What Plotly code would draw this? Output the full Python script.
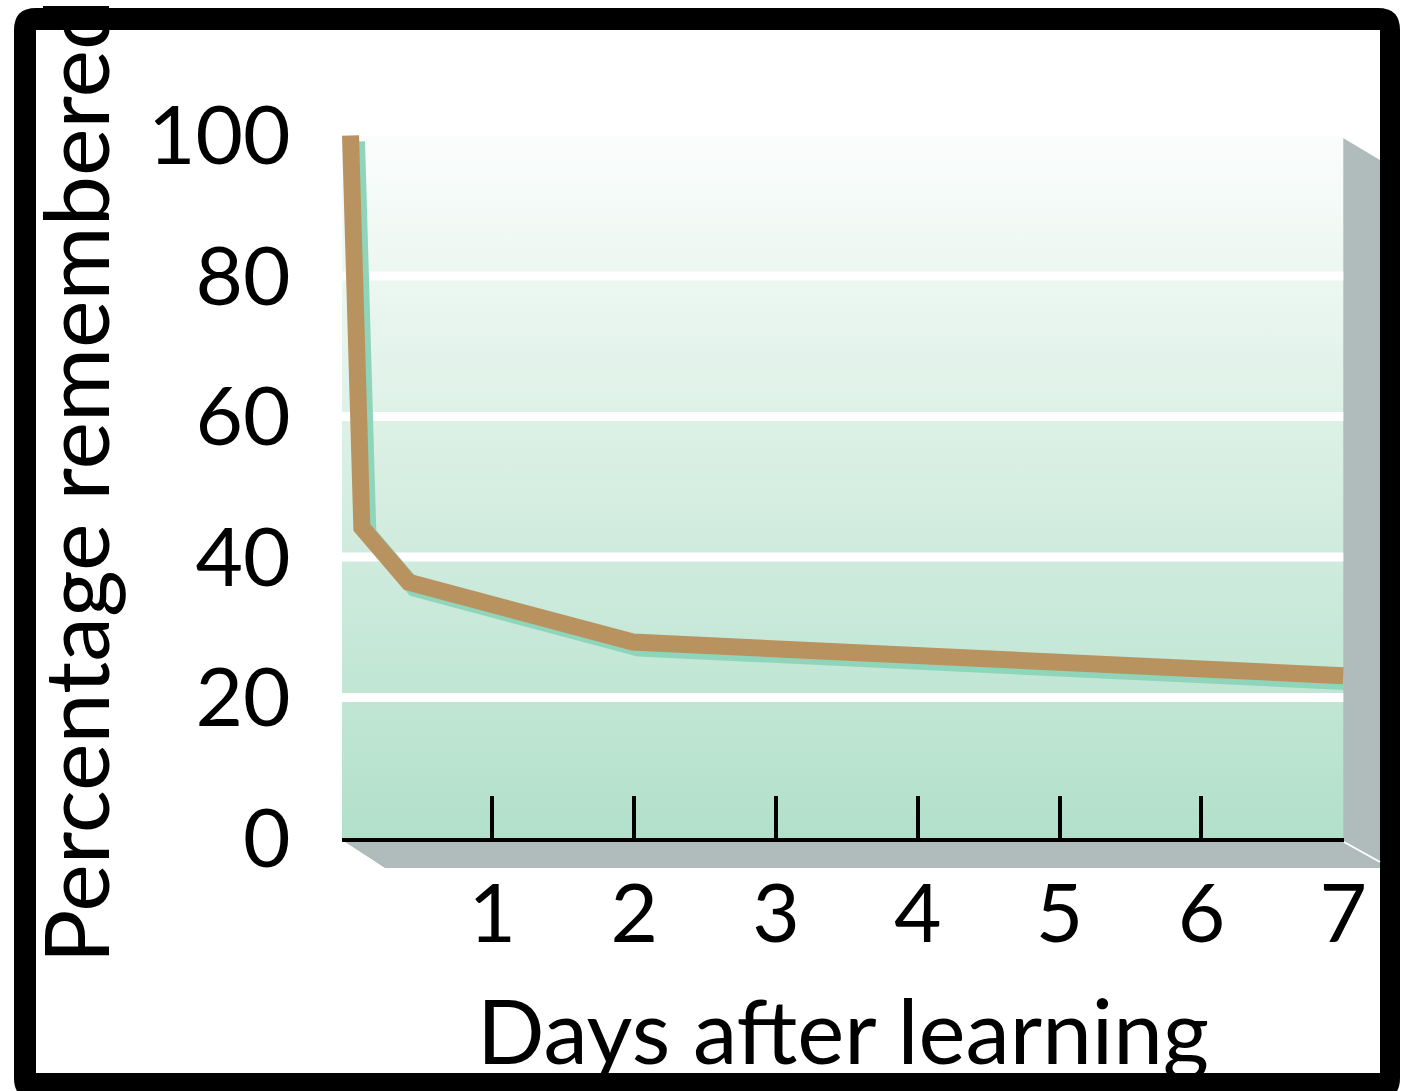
import plotly.graph_objects as go
import numpy as np

# ---- data ----
days = [0, 0.08, 0.41, 1.99, 7]
percent = [100, 44.2, 36.4, 27.9, 23.1]
x_ticks = [1, 2, 3, 4, 5, 6, 7]
x_tick_labels = ["1", "2", "3", "4", "5", "6", "7"]
y_ticks = [0, 20, 40, 60, 80, 100]
y_tick_labels = ["0", "20", "40", "60", "80", "100"]
grid_levels = [20, 40, 60, 80]

# ---- layout geometry (pixels) ----
W, H = 1414, 1091
L, R, T, B = 342, 1344, 125, 838
X_RANGE = [-0.06, 7.005]
Y_RANGE = [0, 101.5]

def px(xp):
    return (xp - L) / (R - L)

def py(yp):
    return (B - yp) / (B - T)

TAN = "#b8935f"
SHADOW = "#8fd5bb"
GRAY = "#afbcbb"
FONT = "Lato"

fig = go.Figure()

# gradient background panel
x0, x1 = X_RANGE[0], max(x_ticks)
fig.add_trace(go.Scatter(
    x=[x0, x1, x1, x0, x0], y=[0, 0, 100, 100, 0],
    mode="lines", line=dict(width=0), fill="toself",
    fillgradient=dict(type="vertical",
                      colorscale=[[0, "#b2e0cb"], [0.5, "#d6eee2"], [1, "#fbfdfc"]]),
    hoverinfo="skip", showlegend=False))

# white grid lines
gx, gy = [], []
for g in grid_levels:
    gx += [x0, x1, None]
    gy += [g, g, None]
fig.add_trace(go.Scatter(x=gx, y=gy, mode="lines",
                         line=dict(color="white", width=9),
                         hoverinfo="skip", showlegend=False))

# shadow of the curve
dx = 6 / ((R - L) / (X_RANGE[1] - X_RANGE[0]))
dy = 6 / ((B - T) / (Y_RANGE[1] - Y_RANGE[0]))
fig.add_trace(go.Scatter(x=np.array(days) + dx, y=np.array(percent) - dy,
                         mode="lines", line=dict(color=SHADOW, width=17),
                         hoverinfo="skip", showlegend=False))
# curve
fig.add_trace(go.Scatter(x=days, y=percent, mode="lines",
                         line=dict(color=TAN, width=17),
                         showlegend=False))

shapes = []
# outer frame
ox0, oy0, ox1, oy1, r = 14, 8, 1400, 1100, 22
path = (f"M {px(ox0+r)},{py(oy0)} L {px(ox1-r)},{py(oy0)} "
        f"Q {px(ox1)},{py(oy0)} {px(ox1)},{py(oy0+r)} "
        f"L {px(ox1)},{py(oy1-r)} Q {px(ox1)},{py(oy1)} {px(ox1-r)},{py(oy1)} "
        f"L {px(ox0+r)},{py(oy1)} Q {px(ox0)},{py(oy1)} {px(ox0)},{py(oy1-r)} "
        f"L {px(ox0)},{py(oy0+r)} Q {px(ox0)},{py(oy0)} {px(ox0+r)},{py(oy0)} Z")
shapes.append(dict(type="path", xref="paper", yref="paper", path=path,
                   fillcolor="black", line=dict(width=0), layer="below"))
shapes.append(dict(type="rect", xref="paper", yref="paper",
                   x0=px(36), x1=px(1380), y0=py(1073), y1=py(30),
                   fillcolor="white", line=dict(width=0), layer="below"))
# 3D right wall and floor
shapes.append(dict(type="path", xref="paper", yref="paper",
                   path=f"M {px(1343)},{py(138)} L {px(1380)},{py(160)} L {px(1380)},{py(868)} "
                        f"L {px(385)},{py(868)} L {px(342)},{py(840)} L {px(1343)},{py(840)} Z",
                   fillcolor=GRAY, line=dict(width=0), layer="below"))
shapes.append(dict(type="line", xref="paper", yref="paper",
                   x0=px(1344), y0=py(842), x1=px(1380), y1=py(862),
                   line=dict(color="white", width=2), layer="below"))

fig.update_layout(
    width=W, height=H,
    margin=dict(l=L, r=W - R, t=T, b=H - B, pad=0),
    paper_bgcolor="white", plot_bgcolor="rgba(0,0,0,0)",
    font=dict(family=FONT, color="black"),
    shapes=shapes,
    showlegend=False,
    xaxis=dict(range=X_RANGE, tickvals=x_ticks, ticktext=x_tick_labels,
               ticks="inside", ticklen=42, tickwidth=4, tickcolor="black",
               showline=True, linewidth=4, linecolor="black",
               showgrid=False, zeroline=False,
               tickfont=dict(size=82, family=FONT), ticklabelstandoff=2,
               title=dict(text="Days after learning", font=dict(size=89, family=FONT),
                          standoff=44)),
    yaxis=dict(range=Y_RANGE, tickvals=y_ticks, ticktext=y_tick_labels,
               ticks="outside", ticklen=34, tickcolor="rgba(0,0,0,0)",
               showline=False, showgrid=False, zeroline=False,
               tickfont=dict(size=82, family=FONT),
               title=dict(text="Percentage remembered", font=dict(size=90, family=FONT),
                          standoff=8)),
)

fig.write_html("out.html", config={"displayModeBar": False},
               post_script="document.body.style.margin='0px';")
